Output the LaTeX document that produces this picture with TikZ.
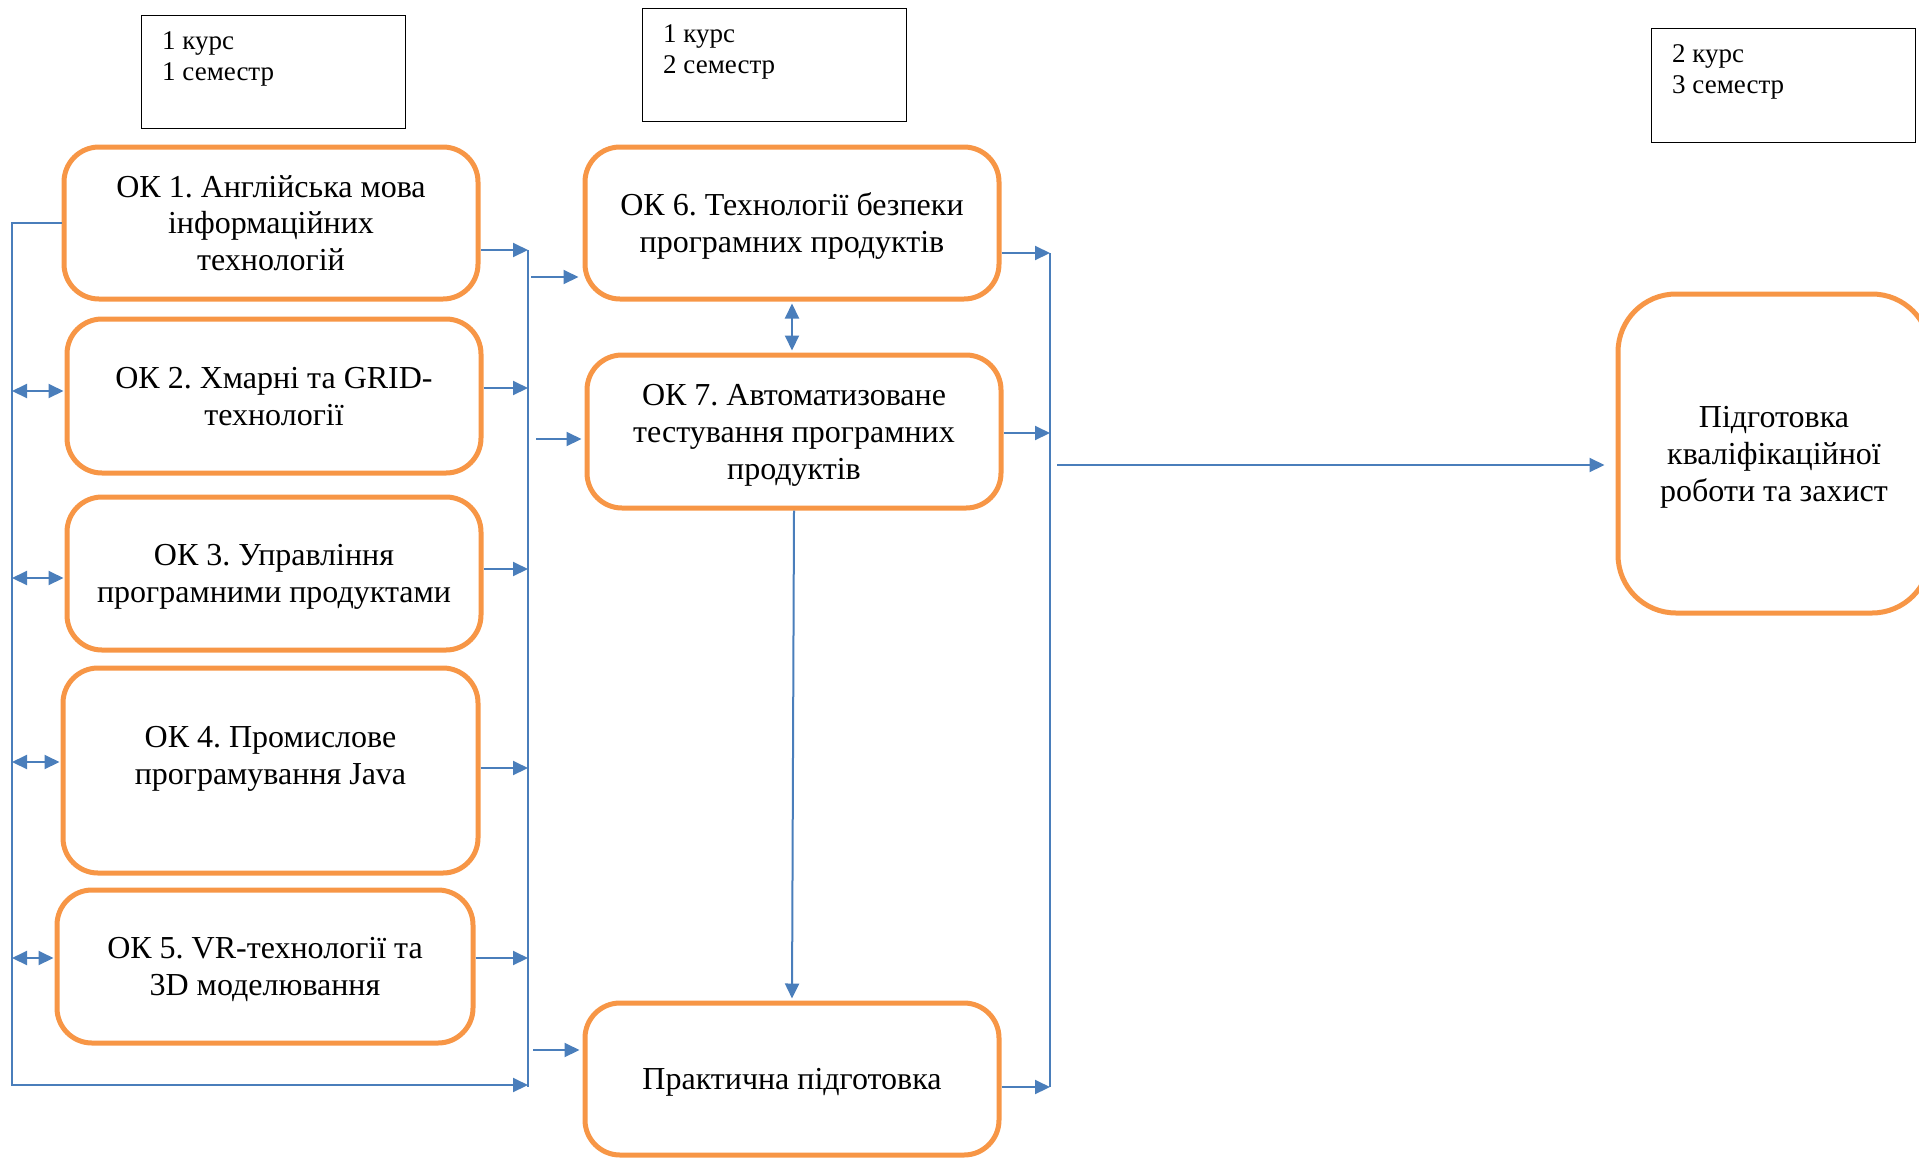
\documentclass[tikz,border=0pt]{standalone}
\usepackage{fontspec}
\setmainfont{Liberation Serif}
\usetikzlibrary{arrows.meta,calc}
\definecolor{okorange}{HTML}{F79646}
\definecolor{lnblue}{HTML}{4A7EBB}
\newcommand{\okstrut}{\rule[-6.9pt]{0pt}{35.4pt}}
\frenchspacing
\begin{document}
\begin{tikzpicture}[x=1pt,y=-1pt,
  okbox/.style={draw=okorange, line width=5pt, rounded corners=35pt, fill=white, align=center,
    font=\fontsize{32}{36.8}\selectfont\frenchspacing, inner sep=0pt, minimum width=414pt, minimum height=152pt},
  oktxt/.style={inner sep=0pt, align=center, font=\fontsize{32}{36.8}\selectfont\frenchspacing},
  labbox/.style={draw=black, line width=1.4pt, inner sep=0pt, anchor=north west, minimum width=264pt, minimum height=113pt},
  labtxt/.style={inner sep=0pt, align=left, anchor=north west, font=\fontsize{27}{31}\selectfont},
  conn/.style={draw=lnblue, line width=2pt},
  arr/.style={conn, -{Triangle[length=15pt,width=14pt]}},
  biarr/.style={conn, {Triangle[length=15pt,width=14pt]}-{Triangle[length=15pt,width=14pt]}},
]
\useasboundingbox (0,0) rectangle (1919,1157);

% semester labels
\node[labbox] (lab1) at (141,15) {};
\node[labtxt] (lab1t) at ([xshift=21pt,yshift=-16.7pt]lab1.north west) {1 курс\\1 семестр};
\node[labbox] (lab2) at (642,8) {};
\node[labtxt] (lab2t) at ([xshift=21pt,yshift=-16.7pt]lab2.north west) {1 курс\\2 семестр};
\node[labbox, minimum height=114pt] (lab3) at (1651,28) {};
\node[labtxt] (lab3t) at ([xshift=21pt,yshift=-16.7pt]lab3.north west) {2 курс\\3 семестр};

% course boxes
\node[okbox] (ok1) at (271,223) {\okstrut ОК 1. Англійська мова\\\okstrut інформаційних\\\okstrut технологій};
\node[okbox, minimum height=154pt] (ok2) at (274,396) {\okstrut ОК 2. Хмарні та GRID-\\\okstrut технології};
\node[okbox, minimum height=153pt] (ok3) at (274,573.5) {\okstrut ОК 3. Управління\\\okstrut програмними продуктами};
\node[okbox, minimum width=415pt, minimum height=205pt] (ok4) at (270.5,770.5) {};
\node[oktxt] (ok4t) at (270.5,755) {\okstrut ОК 4. Промислове\\\okstrut програмування Java};
\node[okbox, minimum width=416pt, minimum height=153pt] (ok5) at (265,966.5) {\okstrut ОК 5. VR-технології та\\\okstrut 3D моделювання};
\node[okbox] (ok6) at (792,223) {\okstrut ОК 6. Технології безпеки\\\okstrut програмних продуктів};
\node[okbox, minimum height=153pt] (ok7) at (794,431.5) {\okstrut ОК 7. Автоматизоване\\\okstrut тестування програмних\\\okstrut продуктів};
\node[okbox] (prac) at (792,1079) {\okstrut Практична підготовка};
\node[okbox, rounded corners=58pt, minimum width=312pt, minimum height=319pt] (fin) at (1774,453.5) {\okstrut Підготовка\\\okstrut кваліфікаційної\\\okstrut роботи та захист};

% coordinates
\coordinate (lt) at (12,223);
\coordinate (lb) at (12,1085);
\coordinate (b1t) at (528,250);
\coordinate (b1b) at (528,1087);
\coordinate (b2t) at (1050,253);
\coordinate (b2b) at (1050,1087);
\coordinate (lstart) at (1057,465);

% left loop
\draw[arr] (ok1.west) -- (lt) -- (lb) -- (lb -| b1t);
\draw[biarr, shorten >=1pt] (lt |- 0,391) -- (ok2.west |- 0,391);
\draw[biarr, shorten >=1pt] (lt |- 0,578) -- (ok3.west |- 0,578);
\draw[biarr, shorten >=1pt] (lt |- 0,762) -- (ok4.west |- 0,762);
\draw[biarr, shorten >=1pt] (lt |- 0,958) -- (ok5.west |- 0,958);

% to first bus
\draw[arr] (ok1.east |- 0,250) -- (b1t);
\draw[arr] (ok2.east |- 0,388) -- (b1t |- 0,388);
\draw[arr] (ok3.east |- 0,569) -- (b1t |- 0,569);
\draw[arr] (ok4.east |- 0,768) -- (b1t |- 0,768);
\draw[arr] (ok5.east |- 0,958) -- (b1t |- 0,958);
\draw[conn] (b1t) -- (b1b);

% from first bus
\draw[arr, shorten >=4pt] ($(b1t |- 0,277)+(3,0)$) -- (ok6.west |- 0,277);
\draw[arr, shorten >=3pt] ($(b1t |- 0,439)+(8,0)$) -- (ok7.west |- 0,439);
\draw[arr, shorten >=3pt] ($(b1t |- 0,1050)+(5,0)$) -- (prac.west |- 0,1050);

% middle column
\draw[biarr, shorten <=2pt, shorten >=2pt] (ok6.south) -- (ok6.south |- ok7.north);
\draw[arr, shorten >=2pt] (ok7.south) -- (prac.north);

% to second bus
\draw[arr] (ok6.east |- b2t) -- (b2t);
\draw[arr] (ok7.east |- 0,433) -- (b2t |- 0,433);
\draw[arr] (prac.east |- b2b) -- (b2b);
\draw[conn] (b2t) -- (b2b);

% to final
\draw[arr, shorten >=11pt] (lstart) -- (fin.west |- lstart);
\end{tikzpicture}
\end{document}
